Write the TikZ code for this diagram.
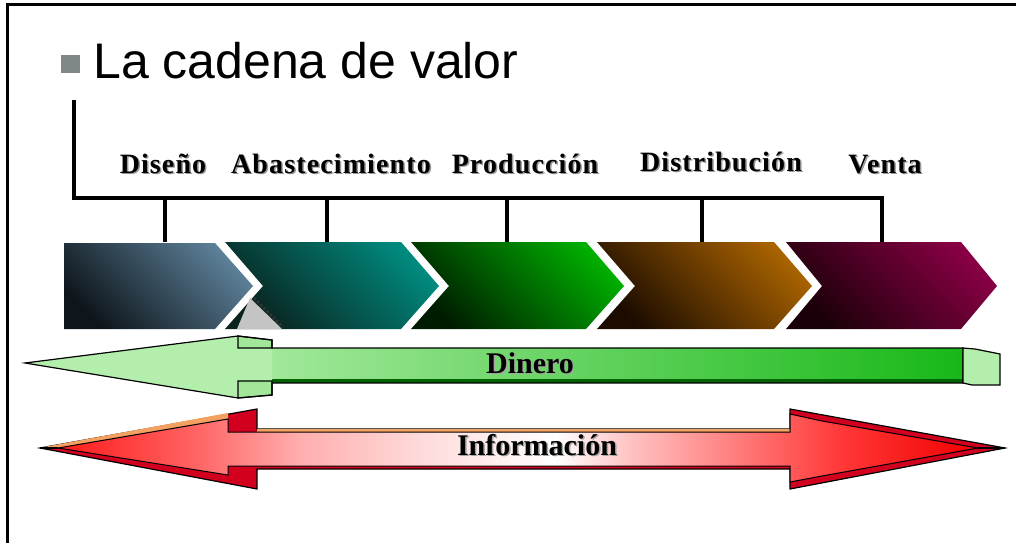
\documentclass[tikz,border=0pt]{standalone}
\usepackage{fontspec}
\setmainfont{Liberation Serif}
\newfontfamily\titlefont{Liberation Sans}
\definecolor{bulletgray}{HTML}{7F8886}
\definecolor{cAdark}{HTML}{0E161C}\definecolor{cAlight}{HTML}{5C8098}
\definecolor{cBdark}{HTML}{0A231F}\definecolor{cBlight}{HTML}{008A7E}
\definecolor{cCdark}{HTML}{001C00}\definecolor{cClight}{HTML}{00AE00}
\definecolor{cDdark}{HTML}{1C0C00}\definecolor{cDlight}{HTML}{A86200}
\definecolor{cEdark}{HTML}{1A0008}\definecolor{cElight}{HTML}{880044}
\definecolor{headgreen}{HTML}{B4EEAC}
\definecolor{barbgreen}{HTML}{A2E69A}
\definecolor{shaftL}{HTML}{A8EAA0}
\definecolor{shaftR}{HTML}{18B818}
\definecolor{dkgreen}{HTML}{006400}
\definecolor{infored}{HTML}{D2001E}
\definecolor{infoorange}{HTML}{F4A060}
\definecolor{artgray}{HTML}{C4C4C4}
\pgfdeclarehorizontalshading{infoshade}{100bp}{%
 color(0bp)=(red!90!white);
 color(25bp)=(red!90!white);
 color(32.7bp)=(red!60!white);
 color(38.1bp)=(red!32!white);
 color(44.5bp)=(red!15!white);
 color(52bp)=(white);
 color(56.3bp)=(red!25!white);
 color(61.6bp)=(red!50!white);
 color(67.5bp)=(red!78!white);
 color(75bp)=(red!95!black);
 color(100bp)=(red!95!black)}
\begin{document}
\begin{tikzpicture}[x=1pt,y=-1pt,
  frame/.style={line width=3pt},
  bracket/.style={line width=4.5pt,line join=miter},
  lbl/.style={font=\fontsize{28}{30}\selectfont\bfseries\addfontfeature{LetterSpace=4},anchor=base,inner sep=0pt},
  lblsh/.style={lbl,text=black!40},
  albl/.style={font=\fontsize{30}{32}\selectfont\bfseries,anchor=base,inner sep=0pt},
  albsh/.style={albl,text=black!35},
  thinout/.style={draw=black,line width=1.2pt,line join=miter}]
\useasboundingbox (0,0) rectangle (1016,543);
% frame
\draw[frame] (7.5,543) -- (7.5,5) -- (1016,5);
% title
\node[fill=bulletgray,minimum width=19pt,minimum height=18pt,inner sep=0pt] (bullet) at (70,64) {};
\node[anchor=base west,inner sep=0pt,font=\titlefont\fontsize{50}{60}\selectfont] (title) at (93,78) {La cadena de valor};
% chevrons
\shade[left color=cAdark,right color=cAlight,shading angle=135]
  (64,243) -- (215,243) -- (253,286) -- (215,329) -- (64,329) -- cycle;
\shade[left color=cBdark,right color=cBlight,shading angle=135]
  (225,242) -- (401,242) -- (439,286) -- (401,329) -- (225,329) -- (263,286) -- cycle;
\shade[left color=cCdark,right color=cClight,shading angle=135]
  (411,242) -- (586,242) -- (624,286) -- (586,329) -- (411,329) -- (449,286) -- cycle;
\shade[left color=cDdark,right color=cDlight,shading angle=135]
  (597,242) -- (774,242) -- (812,286) -- (774,329) -- (597,329) -- (635,286) -- cycle;
\shade[left color=cEdark,right color=cElight,shading angle=135]
  (786,242) -- (961,242) -- (997,286) -- (961,329) -- (786,329) -- (822,286) -- cycle;
% small grey artefact
\fill[artgray] (250,298) -- (282,329) -- (237,329) -- cycle;
\draw[black!80,line width=2.5pt,dotted] (254,298) -- (283,327);
% bracket
\coordinate (b0) at (74,100);
\coordinate (bc) at (74,198);
\coordinate (be) at (882,198);
\coordinate (t1) at (165,198);\coordinate (t1e) at (165,242);
\coordinate (t2) at (327,198);\coordinate (t2e) at (327,242);
\coordinate (t3) at (507,198);\coordinate (t3e) at (507,242);
\coordinate (t4) at (702,198);\coordinate (t4e) at (702,242);
\coordinate (t5e) at (882,242);
\draw[bracket] (b0) -- (bc) -- (be) -- (t5e);
\draw[bracket] (t1) -- (t1e);
\draw[bracket] (t2) -- (t2e);
\draw[bracket] (t3) -- (t3e);
\draw[bracket] (t4) -- (t4e);
% stage labels
\node[lblsh] (l1s) at (164.5,174.5) {Diseño};
\node[lbl] (l1) at (163,173) {Diseño};
\node[lblsh] (l2s) at (332.5,174.5) {Abastecimiento};
\node[lbl] (l2) at (331,173) {Abastecimiento};
\node[lblsh] (l3s) at (526.5,174.5) {Producción};
\node[lbl] (l3) at (525,173) {Producción};
\node[lblsh] (l4s) at (722.5,172.5) {Distribución};
\node[lbl] (l4) at (721,171) {Distribución};
\node[lblsh] (l5s) at (886.5,174.5) {Venta};
\node[lbl] (l5) at (885,173) {Venta};
% Dinero arrow
\shade[left color=shaftL,right color=shaftR] (238,348) rectangle (963,382);
\fill[dkgreen] (272,379) rectangle (963,383);
\fill[headgreen] (25,363) -- (238,336) -- (272,340) -- (272,395) -- (238,398) -- cycle;
\filldraw[fill=barbgreen,thinout] (238,336) -- (272,340) -- (272,348) -- (238,348) -- cycle;
\filldraw[fill=barbgreen,thinout] (238,381) -- (272,381) -- (272,395) -- (238,398) -- cycle;
\draw[thinout] (25,363) -- (238,336) -- (272,340) -- (272,348) -- (963,348) -- (963,383) -- (272,383) -- (272,395) -- (238,398) -- cycle;
\filldraw[fill=headgreen,thinout] (963,348) -- (975,349) -- (1000,354) -- (1000,385) -- (972,385) -- (963,383) -- cycle;
\node[albsh] (dins) at (531.5,374.5) {Dinero};
\node[albl] (din) at (530,373) {Dinero};
% Informacion arrow
\filldraw[fill=infored,thinout] (40,448) -- (257,409) -- (257,429) -- (790,429) -- (790,409) -- (1005,448) -- (790,489) -- (790,469) -- (257,469) -- (257,489) -- cycle;
\fill[infoorange] (44,447) -- (228,413) -- (228,419) -- (58,448) -- cycle;
\fill[infoorange] (257,429) rectangle (790,432);
\shade[shading=infoshade,draw=black,line width=1pt,line join=miter]
  (58,448) -- (228,419) -- (228,432) -- (790,432) -- (790,414) -- (822,421) -- (978,448) -- (822,476) -- (790,482) -- (790,466) -- (228,466) -- (228,475) -- cycle;
\draw[line width=2.5pt] (40,448) -- (58,448);
\draw[line width=2.5pt] (978,448) -- (1005,448);
\node[albsh] (infs) at (538.5,456.5) {Información};
\node[albl] (inf) at (537,455) {Información};
\end{tikzpicture}
\end{document}
